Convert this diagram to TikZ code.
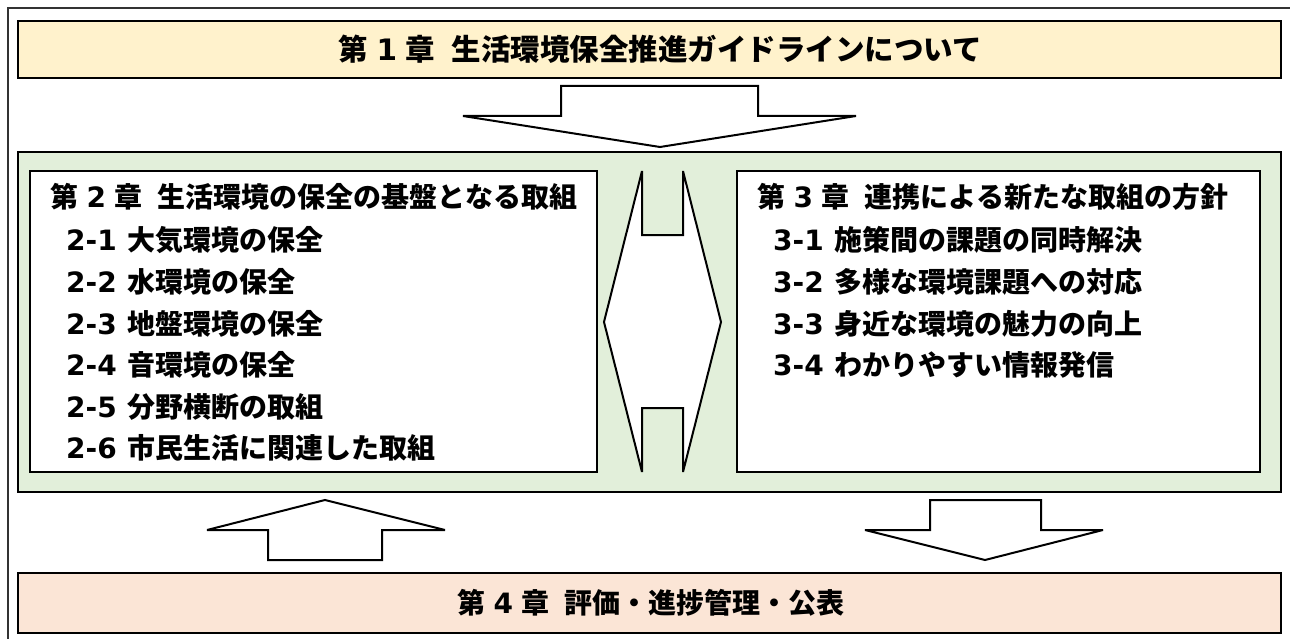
\documentclass[tikz,border=0pt]{standalone}
\usepackage{fontspec}
\setmainfont{Noto Sans CJK JP}
\newfontfamily\numfont{DejaVu Sans}
\definecolor{yellowfill}{HTML}{FFF2CC}
\definecolor{greenfill}{HTML}{E2EFDA}
\definecolor{pinkfill}{HTML}{FBE5D6}
\tikzset{
  chapbox/.style={draw, line width=2.5pt, inner sep=0pt},
  blockarrow/.style={draw, fill=white, line width=2pt, line join=miter, miter limit=5},
  txt/.style={inner sep=0pt, font=\bfseries\fontsize{28}{30}\selectfont},
  item/.style={txt, anchor=west},
}
\begin{document}
\begin{tikzpicture}[x=1pt,y=-1pt]
  \useasboundingbox (0,0) rectangle (1290,639);
  \clip (0,0) rectangle (1290,639);
  % outer frame, cut by the page
  \draw[line width=2pt, black!80] (8,660) -- (8,8) -- (1310,8);

  % chapter 1
  \node[chapbox, fill=yellowfill, minimum width=1263pt, minimum height=57pt](ch1)at(649.5,49.5){};
  \node[txt, font=\bfseries\fontsize{29.5}{30}\selectfont](t1)at(660,49.5){第\hspace{.3em}{\numfont 1}\hspace{.3em}章\hspace{.55em}生活環境保全推進ガイドラインについて};

  % chapters 2 and 3
  \node[chapbox, fill=greenfill, minimum width=1263pt, minimum height=340pt](mid)at(649.5,322){};
  \node[chapbox, fill=white, minimum width=567pt, minimum height=301pt](ch2)at(313.5,321.5){};
  \node[chapbox, fill=white, minimum width=523pt, minimum height=301pt](ch3)at(998.5,321.5){};

  \node[item](h2)at(50,197){第\hspace{.3em}{\numfont 2}\hspace{.3em}章\hspace{.55em}生活環境の保全の基盤となる取組};
  \node[item](i21)at(66,240){{\numfont 2-1}\hspace{.4em}大気環境の保全};
  \node[item](i22)at(66,282){{\numfont 2-2}\hspace{.4em}水環境の保全};
  \node[item](i23)at(66,324){{\numfont 2-3}\hspace{.4em}地盤環境の保全};
  \node[item](i24)at(66,365){{\numfont 2-4}\hspace{.4em}音環境の保全};
  \node[item](i25)at(66,407){{\numfont 2-5}\hspace{.4em}分野横断の取組};
  \node[item](i26)at(66,448){{\numfont 2-6}\hspace{.4em}市民生活に関連した取組};

  \node[item](h3)at(757,197){第\hspace{.3em}{\numfont 3}\hspace{.3em}章\hspace{.55em}連携による新たな取組の方針};
  \node[item](i31)at(773,240){{\numfont 3-1}\hspace{.4em}施策間の課題の同時解決};
  \node[item](i32)at(773,282){{\numfont 3-2}\hspace{.4em}多様な環境課題への対応};
  \node[item](i33)at(773,324){{\numfont 3-3}\hspace{.4em}身近な環境の魅力の向上};
  \node[item](i34)at(773,365){{\numfont 3-4}\hspace{.4em}わかりやすい情報発信};

  % chapter 4
  \node[chapbox, fill=pinkfill, minimum width=1263pt, minimum height=60pt](ch4)at(649.5,603){};
  \node[txt](t4)at(651,603){第\hspace{.3em}{\numfont 4}\hspace{.3em}章\hspace{.55em}評価・進捗管理・公表};

  % block arrows
  \draw[blockarrow](561,86)--(758,86)--(758,116)--(856,116)--(660,147)--(463,116)--(561,116)--cycle;
  \draw[blockarrow](642,171)--(642,235)--(683,235)--(683,171)--(721,322)--(683,472)
    --(683,408)--(642,408)--(642,472)--(604,322)--cycle;
  \draw[blockarrow](268,560)--(268,530)--(207,530)--(325,500)--(445,530)--(382,530)--(382,560)--cycle;
  \draw[blockarrow](930,500)--(1041,500)--(1041,530)--(1103,530)--(985,560)--(865,530)--(930,530)--cycle;
\end{tikzpicture}
\end{document}
